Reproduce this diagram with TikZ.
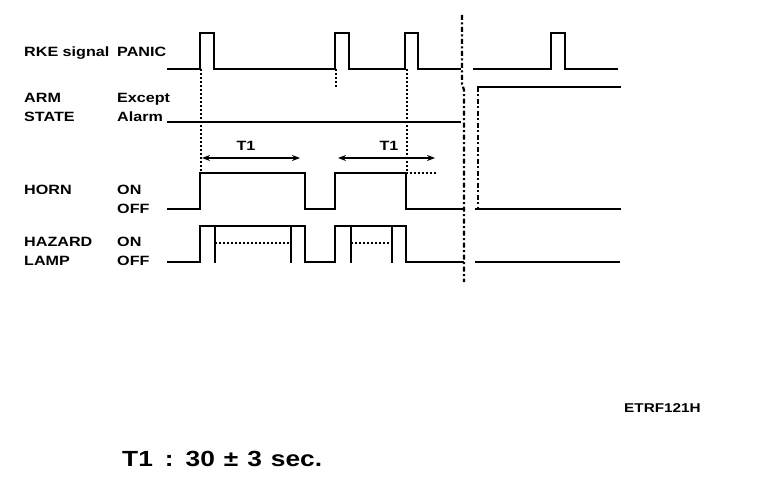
\documentclass[tikz,border=0pt]{standalone}
\usepackage{fontspec}
\setmainfont{Liberation Sans}[FakeStretch=1.2]
\usetikzlibrary{arrows.meta}
\begin{document}
\begin{tikzpicture}[x=1bp,y=-1bp,
  sig/.style={line width=2.9bp, line join=miter, line cap=rect},
  dotl/.style={line width=1.8bp, dash pattern=on 2bp off 2bp},
  divl/.style={line width=2.2bp, dash pattern=on 5bp off 2.5bp on 2bp off 2.5bp},
  lbl/.style={anchor=base west, inner sep=0pt, font=\fontsize{13.5}{15}\selectfont\bfseries},
  tarr/.style={line width=2.4bp, {Stealth[length=8bp,width=6bp]}-{Stealth[length=8bp,width=6bp]}},
  ]
\useasboundingbox (0,0) rectangle (768,502);
% labels
\node[lbl] (rke) at (24,57) {RKE signal};
\node[lbl] (panic) at (117,57) {PANIC};
\node[lbl] (arm) at (24,103) {ARM};
\node[lbl] (state) at (24,122) {STATE};
\node[lbl] (except) at (117,103) {Except};
\node[lbl] (alarm) at (117,122) {Alarm};
\node[lbl] (horn) at (24,195) {HORN};
\node[lbl] (hon) at (117,195) {ON};
\node[lbl] (hoff) at (117,214) {OFF};
\node[lbl] (haz) at (24,247) {HAZARD};
\node[lbl] (lamp) at (24,266) {LAMP};
\node[lbl] (lon) at (117,247) {ON};
\node[lbl] (loff) at (117,266) {OFF};
\node[lbl, font=\fontsize{12.8}{15}\selectfont\bfseries] (code) at (624,412) {ETRF121H};
\node[anchor=base west, inner sep=0pt, font=\fontsize{22}{25}\selectfont\bfseries] (note) at (122,466) {T1\hspace{12bp}:\hspace{12bp}30\hspace{9bp}±\hspace{9bp}3\hspace{9bp}sec.};
% RKE signal
\draw[sig] (168,69) -- (200,69) -- (200,33) -- (214,33) -- (214,69) -- (335,69) -- (335,33) -- (349,33) -- (349,69) -- (405,69) -- (405,33) -- (418,33) -- (418,69) -- (460,69);
\draw[sig] (474,69) -- (551,69) -- (551,33) -- (565,33) -- (565,69) -- (617,69);
% ARM state
\draw[sig] (168,122) -- (460,122);
\draw[sig] (478,87) -- (620,87);
% Horn
\draw[sig] (168,209) -- (200,209) -- (200,173) -- (305,173) -- (305,209) -- (335,209) -- (335,173) -- (406,173) -- (406,209) -- (463,209);
\draw[sig] (476,209) -- (620,209);
\draw[dotl] (406,173) -- (438,173);
% Hazard lamp
\draw[sig] (168,262) -- (200,262) -- (200,226) -- (305,226) -- (305,262) -- (335,262) -- (335,226) -- (406,226) -- (406,262) -- (463,262);
\draw[sig] (476,262) -- (619,262);
\draw[sig] (215,226) -- (215,262);
\draw[sig] (291,226) -- (291,262);
\draw[sig] (351,226) -- (351,262);
\draw[sig] (392,226) -- (392,262);
\draw[dotl] (215,243) -- (291,243);
\draw[dotl] (351,243) -- (392,243);
% dotted timing references
\draw[dotl] (201,69) -- (201,173);
\draw[dotl] (336,69) -- (336,88);
\draw[dotl] (407,69) -- (407,173);
% break lines
\draw[divl] (462,15) -- (462,84) -- (464,90) -- (464,282);
\draw[divl] (478,87) -- (478,209);
% T1 arrows
\coordinate (a1) at (202,158);
\coordinate (b1) at (300,158);
\coordinate (a2) at (338,158);
\coordinate (b2) at (435,158);
\draw[tarr] (a1) -- (b1);
\draw[tarr] (a2) -- (b2);
\node[lbl, anchor=base] (t1a) at (246,151) {T1};
\node[lbl, anchor=base] (t1b) at (389,151) {T1};
\end{tikzpicture}
\end{document}
